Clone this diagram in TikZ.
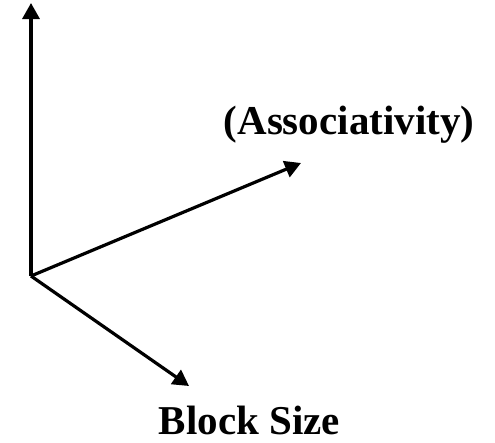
\documentclass[tikz,border=0pt]{standalone}
\usepackage{fontspec}
\setmainfont{Liberation Serif}
\usetikzlibrary{arrows.meta}
\begin{document}
\begin{tikzpicture}[x=1pt,y=-1pt,
  axis/.style={line width=3.2pt,-{Triangle[length=16pt,width=17pt]}},
  lbl/.style={font=\bfseries\fontsize{41}{48}\selectfont,inner sep=0pt,anchor=base}]
\useasboundingbox (0,0) rectangle (495,442);
\coordinate (o) at (31,276);
\coordinate (up) at (31,3);
\coordinate (r) at (301,163);
\coordinate (d) at (189,386);
\draw[axis] (o) -- (up);
\draw[axis] (o) -- (r);
\draw[axis] (o) -- (d);
\node[lbl] (assoc) at (349,134) {(Associativity)};
\node[lbl] (bs) at (249.5,434) {Block Size};
\end{tikzpicture}
\end{document}
